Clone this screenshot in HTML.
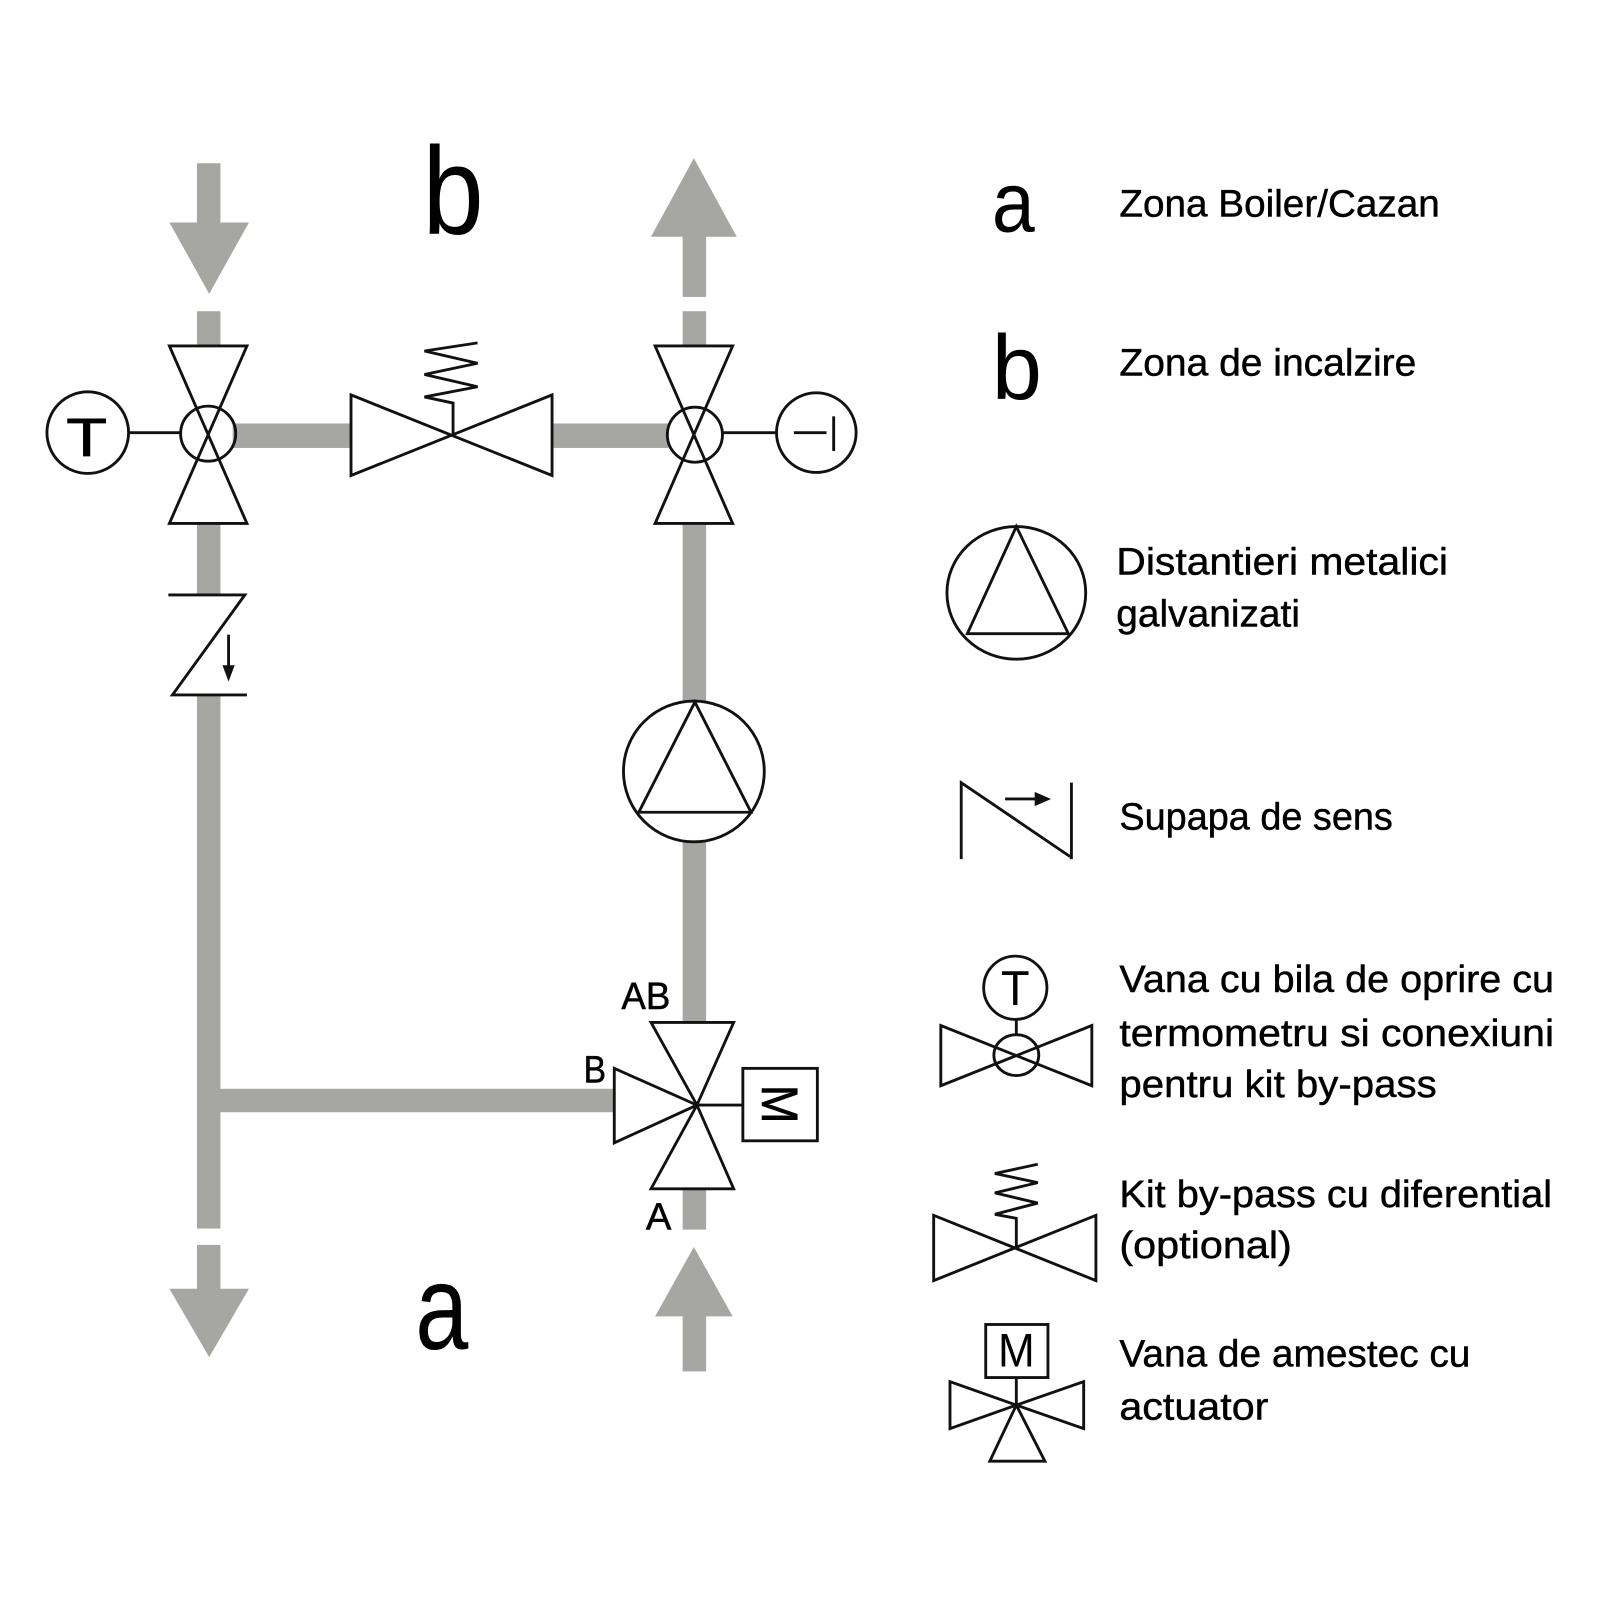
<!DOCTYPE html>
<html>
<head>
<meta charset="utf-8">
<style>
  html, body { margin: 0; padding: 0; background: #ffffff; }
  svg { display: block; }
  text { font-family: "Liberation Sans", "DejaVu Sans", sans-serif; fill: #000; }
</style>
</head>
<body>
<svg width="1600" height="1600" viewBox="0 0 1568 1568" xmlns="http://www.w3.org/2000/svg">
  <rect x="0" y="0" width="1568" height="1568" fill="#ffffff"/>

  <!-- ============ PIPES (gray) ============ -->
  <g fill="#a6a6a2">
    <rect x="193" y="160" width="23" height="60"/>
    <polygon points="166,218 244,218 205,288"/>
    <rect x="193" y="305" width="23" height="34"/>
    <rect x="193" y="513" width="23" height="70"/>
    <rect x="193" y="682" width="23" height="522"/>
    <rect x="204" y="1067" width="399" height="23"/>
    <rect x="193" y="1220" width="23" height="44"/>
    <polygon points="166,1263 244,1263 205,1330"/>

    <polygon points="680,155 722,232 638,232"/>
    <rect x="669" y="231" width="23" height="60"/>
    <rect x="669" y="305" width="23" height="34"/>
    <rect x="669" y="513" width="23" height="176"/>
    <rect x="669" y="823" width="23" height="180"/>
    <rect x="669" y="1165" width="23" height="40"/>
    <polygon points="680,1222 718,1290 642,1290"/>
    <rect x="669" y="1289" width="23" height="55"/>

    <rect x="228" y="415" width="117" height="24"/>
    <rect x="541" y="415" width="114" height="24"/>
  </g>

  <!-- ============ SYMBOLS (black lines) ============ -->
  <g fill="none" stroke="#111" stroke-width="2.8" stroke-linejoin="miter">
    <polygon points="166,339 242,339 166,513 242,513" fill="#fff"/>
    <circle cx="204" cy="425" r="27"/>
    <line x1="126" y1="424" x2="177" y2="424"/>
    <circle cx="86" cy="424" r="40"/>

    <polygon points="344,387 344,466 541,387 541,466" fill="#fff"/>
    <polyline points="444,426 444,395 416,389 468,379 416,367 468,356 416,344 468,336"/>

    <polygon points="642,339 718,339 642,513 718,513" fill="#fff"/>
    <circle cx="681" cy="426" r="27"/>
    <line x1="708" y1="424" x2="762" y2="424"/>
    <circle cx="800" cy="424" r="39"/>
    <line x1="778" y1="424" x2="810" y2="424"/>
    <line x1="817" y1="408" x2="817" y2="442"/>

    <polyline points="165,583 240,583 169,681 242,681"/>
    <line x1="224" y1="622" x2="224" y2="656"/>

    <circle cx="680" cy="756" r="69" fill="#fff"/>
    <polygon points="681,688 736,796 626,796"/>

    <polygon points="638,1002 719,1002 683,1083" fill="#fff"/>
    <polygon points="638,1165 719,1165 683,1083" fill="#fff"/>
    <polygon points="602,1047 602,1120 683,1083" fill="#fff"/>
    <line x1="683" y1="1083" x2="728" y2="1083"/>
    <rect x="728" y="1047" width="73" height="71" fill="#fff"/>

    <!-- ===== LEGEND ===== -->
    <ellipse cx="996" cy="581" rx="68" ry="65"/>
    <polygon points="996,516 1047,621 948,621"/>

    <polyline points="942,842 942,767 1048,839 1050,839"/>
    <line x1="1050" y1="767" x2="1050" y2="842"/>
    <line x1="985" y1="783" x2="1018" y2="783"/>

    <polygon points="922,1005 922,1064 1070,1005 1070,1064" fill="#fff"/>
    <ellipse cx="996" cy="1034" rx="22" ry="20"/>
    <line x1="996" y1="998" x2="996" y2="1014"/>
    <circle cx="995" cy="968" r="31" fill="#fff"/>

    <polygon points="915,1191 915,1255 1074,1191 1074,1255" fill="#fff"/>
    <polyline points="996,1223 996,1194 975,1190 1017,1179 975,1169 1017,1159 975,1150 1017,1141"/>

    <rect x="966" y="1298" width="61" height="52" fill="#fff"/>
    <line x1="996" y1="1350" x2="996" y2="1377"/>
    <polygon points="931,1354 931,1400 996,1377"/>
    <polygon points="1062,1354 1062,1400 996,1377"/>
    <polygon points="970,1432 1024,1432 996,1377"/>
  </g>

  <g fill="#111">
    <polygon points="218,652 230,652 224,668"/>
    <polygon points="1014,776 1014,790 1030,783"/>
  </g>

  <!-- ============ TEXT ============ -->
  <text x="85" y="447" font-size="53" text-anchor="middle" textLength="40" lengthAdjust="spacingAndGlyphs" stroke="#000" stroke-width="0.8">T</text>
  <text transform="translate(764,1082) rotate(90)" x="0" y="17" font-size="50" text-anchor="middle" textLength="38" lengthAdjust="spacingAndGlyphs" stroke="#000" stroke-width="0.6">M</text>

  <text x="414" y="229" font-size="122" textLength="60" lengthAdjust="spacingAndGlyphs">b</text>
  <text x="407" y="1322" font-size="118" textLength="52" lengthAdjust="spacingAndGlyphs">a</text>

  <g stroke="#000" stroke-width="0.5">
    <text x="609" y="989" font-size="37" textLength="48" lengthAdjust="spacingAndGlyphs">AB</text>
    <text x="572" y="1061" font-size="37" textLength="22" lengthAdjust="spacingAndGlyphs">B</text>
    <text x="633" y="1205" font-size="37" textLength="25" lengthAdjust="spacingAndGlyphs">A</text>
  </g>

  <text x="972" y="227" font-size="84" textLength="42" lengthAdjust="spacingAndGlyphs">a</text>
  <text x="972" y="391" font-size="90" textLength="49" lengthAdjust="spacingAndGlyphs">b</text>

  <text x="995" y="985" font-size="48" text-anchor="middle" textLength="28" lengthAdjust="spacingAndGlyphs">T</text>
  <text x="996" y="1339" font-size="46" text-anchor="middle" textLength="36" lengthAdjust="spacingAndGlyphs">M</text>

  <g font-size="37" stroke="#000" stroke-width="0.45">
    <text x="1097" y="212" textLength="314" lengthAdjust="spacingAndGlyphs">Zona Boiler/Cazan</text>
    <text x="1097" y="368" textLength="291" lengthAdjust="spacingAndGlyphs">Zona de incalzire</text>
    <text x="1094" y="563" textLength="325" lengthAdjust="spacingAndGlyphs">Distantieri metalici</text>
    <text x="1094" y="614" textLength="180" lengthAdjust="spacingAndGlyphs">galvanizati</text>
    <text x="1097" y="813" textLength="268" lengthAdjust="spacingAndGlyphs">Supapa de sens</text>
    <text x="1097" y="972" textLength="426" lengthAdjust="spacingAndGlyphs">Vana cu bila de oprire cu</text>
    <text x="1097" y="1025" textLength="426" lengthAdjust="spacingAndGlyphs">termometru si conexiuni</text>
    <text x="1097" y="1075" textLength="311" lengthAdjust="spacingAndGlyphs">pentru kit by-pass</text>
    <text x="1097" y="1183" textLength="424" lengthAdjust="spacingAndGlyphs">Kit by-pass cu diferential</text>
    <text x="1097" y="1233" textLength="169" lengthAdjust="spacingAndGlyphs">(optional)</text>
    <text x="1097" y="1339" textLength="344" lengthAdjust="spacingAndGlyphs">Vana de amestec cu</text>
    <text x="1097" y="1391" textLength="146" lengthAdjust="spacingAndGlyphs">actuator</text>
  </g>
</svg>
</body>
</html>
